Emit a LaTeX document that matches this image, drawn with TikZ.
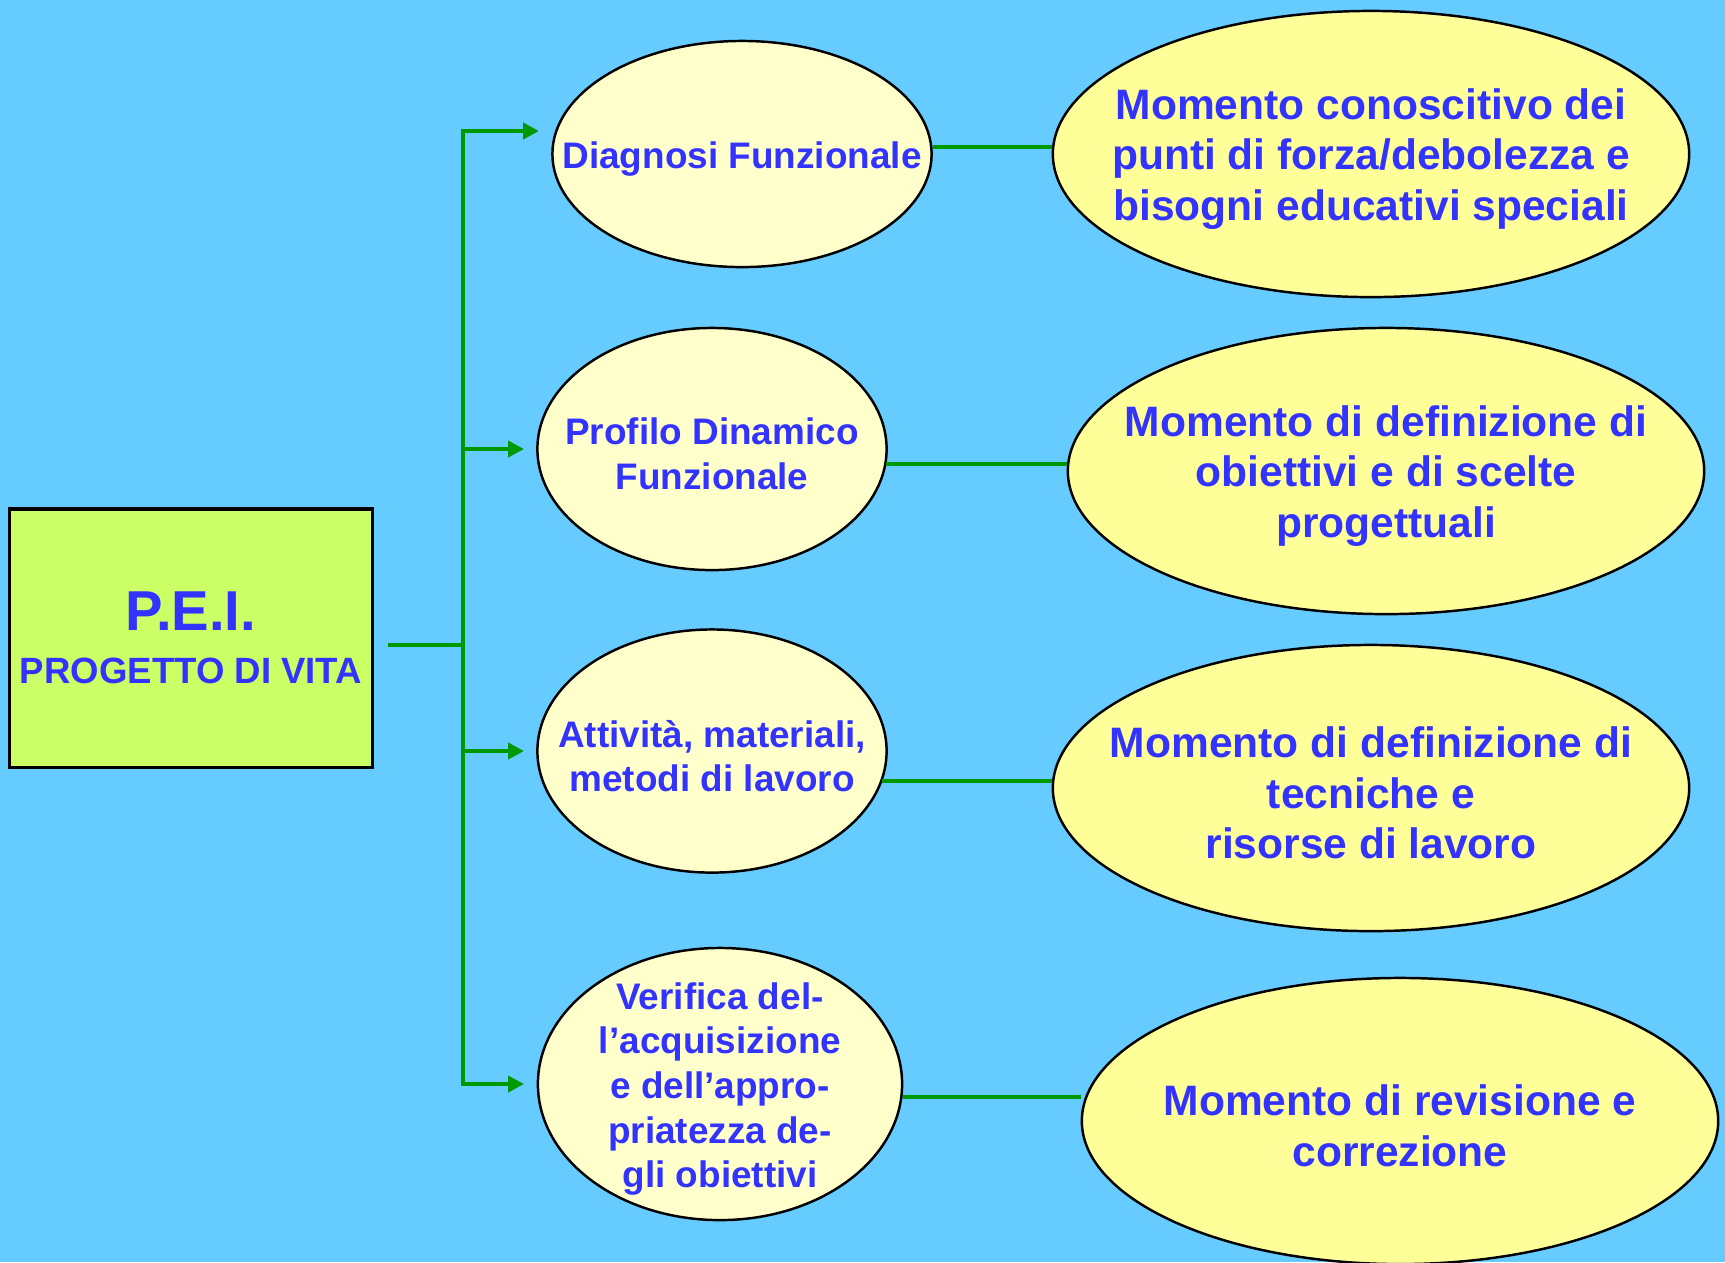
\documentclass[tikz,border=0pt]{standalone}
\usepackage{fontspec}
\setmainfont{Liberation Sans}
\usetikzlibrary{arrows.meta, positioning, shapes.geometric}
\definecolor{skyback}{RGB}{102,204,255}
\definecolor{peigreen}{RGB}{204,255,102}
\definecolor{palecream}{RGB}{255,255,204}
\definecolor{paleyellow}{RGB}{255,255,153}
\definecolor{textblue}{RGB}{51,51,255}
\definecolor{linkgreen}{RGB}{0,153,0}

\begin{document}
\begin{tikzpicture}[
    x=0.01cm, y=-0.01cm,
    pei_box/.style={draw=black, line width=0.9pt, fill=peigreen, minimum width=3.63cm, minimum height=2.58cm, inner sep=0pt, align=center, text=textblue},
    phase_ell/.style={ellipse, draw=black, line width=0.7pt, fill=palecream, inner sep=0pt},
    phase_txt/.style={align=center, inner sep=0pt, yshift=-0.05cm, text=textblue, font=\bfseries\fontsize{10.5}{12.7}\selectfont},
    moment_ell/.style={ellipse, draw=black, line width=0.7pt, fill=paleyellow, minimum width=6.36cm, minimum height=2.86cm, inner sep=0pt},
    moment_txt/.style={align=center, inner sep=0pt, yshift=-0.05cm, text=textblue, font=\bfseries\fontsize{12.1}{14.4}\selectfont},
    branch/.style={-{Triangle[length=4.5pt, width=4.5pt]}, line width=1.2pt, draw=linkgreen},
    link/.style={line width=1.2pt, draw=linkgreen}
]

    % background
    \fill[skyback] (0,0) rectangle (1725,1262);
    \useasboundingbox (0,0) rectangle (1725,1262);

    % main box
    \node[pei_box] (pei) at (191,638) {{\bfseries\fontsize{16}{18}\selectfont P.E.I.}\\[3pt]{\bfseries\fontsize{10.4}{12}\selectfont PROGETTO DI VITA}};

    % phases (left column)
    \node[phase_ell, minimum width=3.79cm, minimum height=2.26cm] (diag) at (742,154) {};
    \node[phase_ell, minimum width=3.49cm, minimum height=2.42cm] (pdf) at (712,449) {};
    \node[phase_ell, minimum width=3.49cm, minimum height=2.43cm] (att) at (712,751) {};
    \node[phase_ell, minimum width=3.64cm, minimum height=2.72cm] (verif) at (720,1084) {};
    \node[phase_txt] (diag_txt) at (diag.center) {Diagnosi Funzionale};
    \node[phase_txt] (pdf_txt) at (pdf.center) {Profilo Dinamico\\Funzionale};
    \node[phase_txt] (att_txt) at (att.center) {Attività, materiali,\\metodi di lavoro};
    \node[phase_txt] (verif_txt) at (verif.center) {Verifica del-\\l’acquisizione\\e dell’appro-\\priatezza de-\\gli obiettivi};

    % moments (right column)
    \node[moment_ell] (mom1) at (1371,154) {};
    \node[moment_ell] (mom2) at (1386,471) {};
    \node[moment_ell] (mom3) at (1371,788) {};
    \node[moment_ell] (mom4) at (1400,1121) {};
    \node[moment_txt] (mom1_txt) at (mom1.center) {Momento conoscitivo dei\\punti di forza/debolezza e\\bisogni educativi speciali};
    \node[moment_txt] (mom2_txt) at (mom2.center) {Momento di definizione di\\obiettivi e di scelte\\progettuali};
    \node[moment_txt] (mom3_txt) at (mom3.center) {Momento di definizione di\\tecniche e\\risorse di lavoro};
    \node[moment_txt] (mom4_txt) at (mom4.center) {Momento di revisione e\\correzione};

    % split point and arrow ends
    \coordinate (split) at (463,645);
    \coordinate (in1) at (539,131);
    \coordinate (in2) at (524,449);
    \coordinate (in3) at (524,751);
    \coordinate (in4) at (524,1084);

    % box to trunk
    \draw[link] ([xshift=0.14cm]pei.east |- split) -- (split);

    % trunk to phases
    \draw[branch] (split) |- (in1);
    \draw[branch] (split) |- (in2);
    \draw[branch] (split) |- (in3);
    \draw[branch] (split) |- (in4);

    % phases to moments
    \draw[link] (diag.2) -- (diag.2 -| mom1.west);
    \draw[link] (pdf.-5) -- (pdf.-5 -| mom2.west);
    \draw[link] (att.-10) -- (att.-10 -| mom3.west);
    \draw[link] (verif.-4) -- (verif.-4 -| mom4.west);

\end{tikzpicture}
\end{document}
